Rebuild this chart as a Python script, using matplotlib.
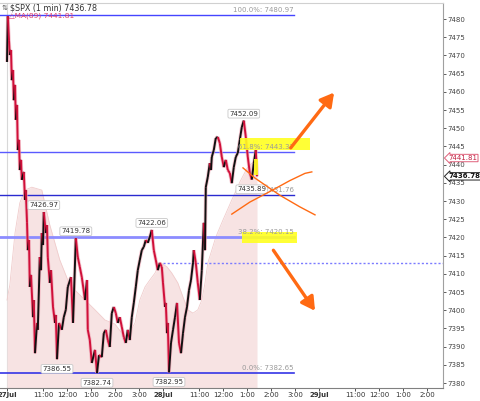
import matplotlib.pyplot as plt
import matplotlib.transforms as mtransforms
from matplotlib.collections import LineCollection

# minutes since the 27 Jul open, sessions glued end to end (390 min each)
t_min = [0, 2, 5, 7, 10, 12, 15, 17, 20, 22, 25, 27, 30, 32, 35, 37, 42, 45, 47, 50,
         52, 55, 57, 60, 65, 67, 70, 75, 77, 82, 85, 87, 90, 92, 97, 100, 102, 107, 110, 115,
         120, 122, 125, 130, 137, 142, 147, 152, 160, 165, 167, 172, 177, 182, 187, 195, 200, 202, 207, 212,
         220, 225, 230, 237, 242, 247, 252, 257, 262, 267, 272, 277, 282, 287, 292, 297, 302, 307, 312, 317,
         322, 327, 332, 337, 342, 347, 352, 357, 362, 367, 372, 377, 382, 387, 390, 395, 397, 400, 402, 405,
         410, 415, 420, 425, 430, 435, 440, 445, 450, 455, 460, 465, 467, 472, 477, 482, 487, 492, 495, 497,
         502, 507, 510, 512, 517, 522, 527, 532, 537, 542, 547, 552, 557, 562, 567, 572, 577, 582, 587, 592,
         597, 602, 607, 612, 617, 622, 625]
price = [7468.2, 7480.8, 7474.2, 7470.1, 7471.5, 7463.2, 7466.0, 7457.7, 7461.9, 7452.3,
         7456.4, 7444.0, 7446.8, 7438.5, 7441.3, 7435.8, 7438.0, 7430.3, 7433.0, 7424.2,
         7416.5, 7419.3, 7406.4, 7409.7, 7398.1, 7402.8, 7388.2, 7396.5, 7394.6, 7414.6,
         7411.0, 7421.2, 7417.9, 7426.97, 7421.2, 7423.4, 7414.6, 7407.5, 7411.0, 7400.9,
         7396.5, 7398.7, 7386.55, 7396.5, 7394.6, 7398.1, 7400.1, 7406.4, 7409.1, 7396.5,
         7402.8, 7419.78, 7414.6, 7411.9, 7409.1, 7402.8, 7408.3, 7394.6, 7391.8, 7385.5,
         7389.1, 7382.74, 7387.7, 7387.1, 7393.7, 7394.6, 7391.8, 7389.9, 7399.2, 7400.9,
         7399.2, 7396.5, 7398.1, 7395.4, 7392.6, 7391.0, 7394.6, 7391.8, 7398.1, 7402.0,
         7406.4, 7411.0, 7413.8, 7416.5, 7417.4, 7419.3, 7418.5, 7420.1, 7422.06, 7416.5,
         7413.8, 7411.0, 7413.0, 7411.9, 7407.5, 7400.9, 7402.0, 7393.7, 7396.5, 7382.95,
         7391.0, 7394.6, 7398.1, 7402.0, 7391.0, 7388.2, 7393.7, 7398.1, 7400.9, 7405.5,
         7408.3, 7413.0, 7416.5, 7413.0, 7407.5, 7402.8, 7411.0, 7424.0, 7416.5, 7433.8,
         7436.6, 7440.4, 7438.5, 7442.1, 7444.0, 7447.3, 7447.6, 7445.9, 7442.1, 7439.3,
         7441.3, 7438.5, 7437.7, 7434.9, 7439.3, 7442.1, 7443.2, 7446.8, 7450.3, 7452.09,
         7447.6, 7442.1, 7437.7, 7435.89, 7440.4, 7444.0, 7436.78]

# MA(89)
ma_t = [0, 7, 20, 32, 45, 62, 87, 107, 132, 157, 195, 220, 245, 270, 287, 300, 320, 332,
        345, 357, 370, 382, 400, 412, 427, 440, 452, 465, 477, 487, 495, 502, 512, 522,
        540, 562, 582, 600, 625]
ma_val = [7402.8, 7406.9, 7421.2, 7429.5, 7433.0, 7433.8, 7433.0, 7423.4, 7413.8, 7406.9,
          7402.8, 7400.1, 7397.3, 7396.2, 7393.7, 7392.6, 7396.5, 7402.8, 7406.4, 7408.3,
          7410.2, 7413.2, 7411.9, 7410.2, 7407.5, 7403.6, 7400.1, 7399.2, 7400.1, 7402.8,
          7407.5, 7413.0, 7416.5, 7420.1, 7424.8, 7430.3, 7435.2, 7439.0, 7441.81]

fib_pct = ["100.0%", "61.8%", "50.0%", "38.2%", "0.0%"]
fib_val = [7480.97, 7443.37, 7431.76, 7420.15, 7382.65]

high_t = [92, 172, 362, 592]
high_v = [7426.97, 7419.78, 7422.06, 7452.09]
low_t = [125, 225, 405, 612]
low_v = [7386.55, 7382.74, 7382.95, 7435.89]

dotted_level = 7413.0
last_price = 7436.78
last_ma = 7441.81

tick_pos = [0, 90, 150, 210, 270, 330, 390, 480, 540, 600, 660, 720, 780, 870, 930, 990, 1050]
tick_lab = ["27Jul", "11:00", "12:00", "1:00", "2:00", "3:00", "28Jul", "11:00", "12:00",
            "1:00", "2:00", "3:00", "29Jul", "11:00", "12:00", "1:00", "2:00"]
y_ticks = list(range(7380, 7481, 5))

RED = "#d0103a"
FIB_COLORS = ["#4545ff", "#5a5aff", "#2a2ad0", "#8c8cff", "#3535e6"]
FIB_WIDTHS = [1.0, 1.0, 1.0, 2.0, 1.2]

fig = plt.figure(figsize=(4.8, 4.01), dpi=100)
ax = fig.add_axes([0, 13 / 401, 443 / 480, 385 / 401])
ax.set_xlim(-17.5, 1090)
ax.set_ylim(7378.63, 7484.4)

# pink MA area
ax.fill_between(ma_t, ma_val, 7378.63, color="#f7e3e3", lw=0, zorder=1)
ax.plot(ma_t, ma_val, color="#f0cccc", lw=0.6, zorder=1)

# day separator
ax.axvline(0, color="#d8d8d8", lw=0.8, zorder=0)

# fib levels
for pct, val, c, w in zip(fib_pct, fib_val, FIB_COLORS, FIB_WIDTHS):
    ax.plot([-17.5, 717], [val, val], color=c, lw=w, zorder=2)
for pct, val in zip(fib_pct, fib_val):
    ax.annotate(f"{pct}: {val:.2f}", (717, val), xytext=(0, 1.5), textcoords="offset points",
                ha="right", va="bottom", fontsize=5, color="#9a9a9a", zorder=6)

ax.plot([390, 1090], [dotted_level, dotted_level], color="#7b7bff", lw=1.0,
        ls=(0, (1.5, 1.5)), zorder=2)

# yellow highlighter marks
ax.fill_between([582, 757], 7444.0, 7447.3, color="#ffff20", alpha=0.9, lw=0, zorder=5)
ax.fill_between([587, 725], 7418.5, 7421.5, color="#ffff20", alpha=0.9, lw=0, zorder=5)
ax.fill_between([617, 627], 7437.2, 7441.5, color="#ffff20", alpha=0.9, lw=0, zorder=5)

# price path, black going up, red going down
segs = []
cols = []
for i in range(1, len(t_min)):
    segs.append([(t_min[i - 1], price[i - 1]), (t_min[i], price[i])])
    cols.append("#111111" if price[i] >= price[i - 1] else RED)
ax.add_collection(LineCollection(segs, colors="#f0a0b0", linewidths=2.6, zorder=3, alpha=0.6))
ax.add_collection(LineCollection(segs, colors=cols, linewidths=1.4, zorder=4))

box = dict(boxstyle="round,pad=0.2", fc="white", ec="#c8c8c8", lw=0.6)
for t, v in zip(high_t, high_v):
    ax.annotate(f"{v:.2f}", (t, v), xytext=(0, 5), textcoords="offset points", ha="center",
                va="center", fontsize=5, color="#333333", bbox=box, zorder=7)
for t, v in zip(low_t, low_v):
    ax.annotate(f"{v:.2f}", (t, v), xytext=(0, -7), textcoords="offset points", ha="center",
                va="center", fontsize=5, color="#333333", bbox=box, zorder=7)

# hand drawn orange marks
ORANGE = "#ff6a13"
ax.annotate("", xy=(822, 7460.4), xytext=(705, 7444.0),
            arrowprops=dict(arrowstyle="-|>,head_length=0.8,head_width=0.45", color=ORANGE, lw=2.4),
            zorder=8)
ax.annotate("", xy=(774, 7399.2), xytext=(662, 7417.1),
            arrowprops=dict(arrowstyle="-|>,head_length=0.8,head_width=0.45", color=ORANGE, lw=2.4),
            zorder=8)
ax.plot([562, 607, 657, 707, 745, 762], [7426.4, 7429.7, 7432.6, 7435.6, 7437.6, 7438.0],
        color=ORANGE, lw=1.0, zorder=8)
ax.plot([590, 620, 682, 732, 770], [7439.1, 7436.3, 7431.6, 7428.4, 7426.2],
        color=ORANGE, lw=1.0, zorder=8)

# axes styling
ax.spines["left"].set_visible(False)
ax.spines["top"].set_color("#d0d0d0")
ax.spines["right"].set_color("#a0a0a0")
ax.spines["bottom"].set_color("#808080")
ax.yaxis.tick_right()
ax.set_yticks(y_ticks)
ax.set_yticklabels([str(v) for v in y_ticks])
ax.tick_params(axis="y", labelsize=5, colors="#444444", length=2, pad=1.5, width=0.6)
ax.set_xticks(tick_pos)
ax.set_xticklabels(tick_lab)
ax.tick_params(axis="x", labelsize=5, colors="#333333", length=2, pad=1, width=0.6)
for lab in ax.get_xticklabels():
    if "Jul" in lab.get_text():
        lab.set_fontweight("bold")

# right-hand price tags
trans = mtransforms.blended_transform_factory(ax.transAxes, ax.transData)
ax.text(1.012, last_ma, f"{last_ma:.2f}", transform=trans, ha="left", va="center",
        fontsize=5, color="#c02040", clip_on=False, zorder=9,
        bbox=dict(boxstyle="larrow,pad=0.1", fc="white", ec="#e0607a", lw=0.7))
ax.text(1.012, last_price, f"{last_price:.2f}", transform=trans, ha="left", va="center",
        fontsize=5, color="#111111", fontweight="bold", clip_on=False, zorder=9,
        bbox=dict(boxstyle="larrow,pad=0.1", fc="white", ec="#222222", lw=0.7))

fig.text(10 / 480, 1 - 8 / 401, "$SPX (1 min) 7436.78", fontsize=5.8, color="#333333",
         va="center", ha="left")
fig.text(2 / 480, 1 - 8 / 401, "⇅", fontsize=5, color="#555555", va="center", ha="left")
fig.text(9 / 480, 1 - 16 / 401, "△MA(89) 7441.81", fontsize=5.3, color="#e0406a",
         va="center", ha="left")

fig.savefig("out.png", dpi=100)
